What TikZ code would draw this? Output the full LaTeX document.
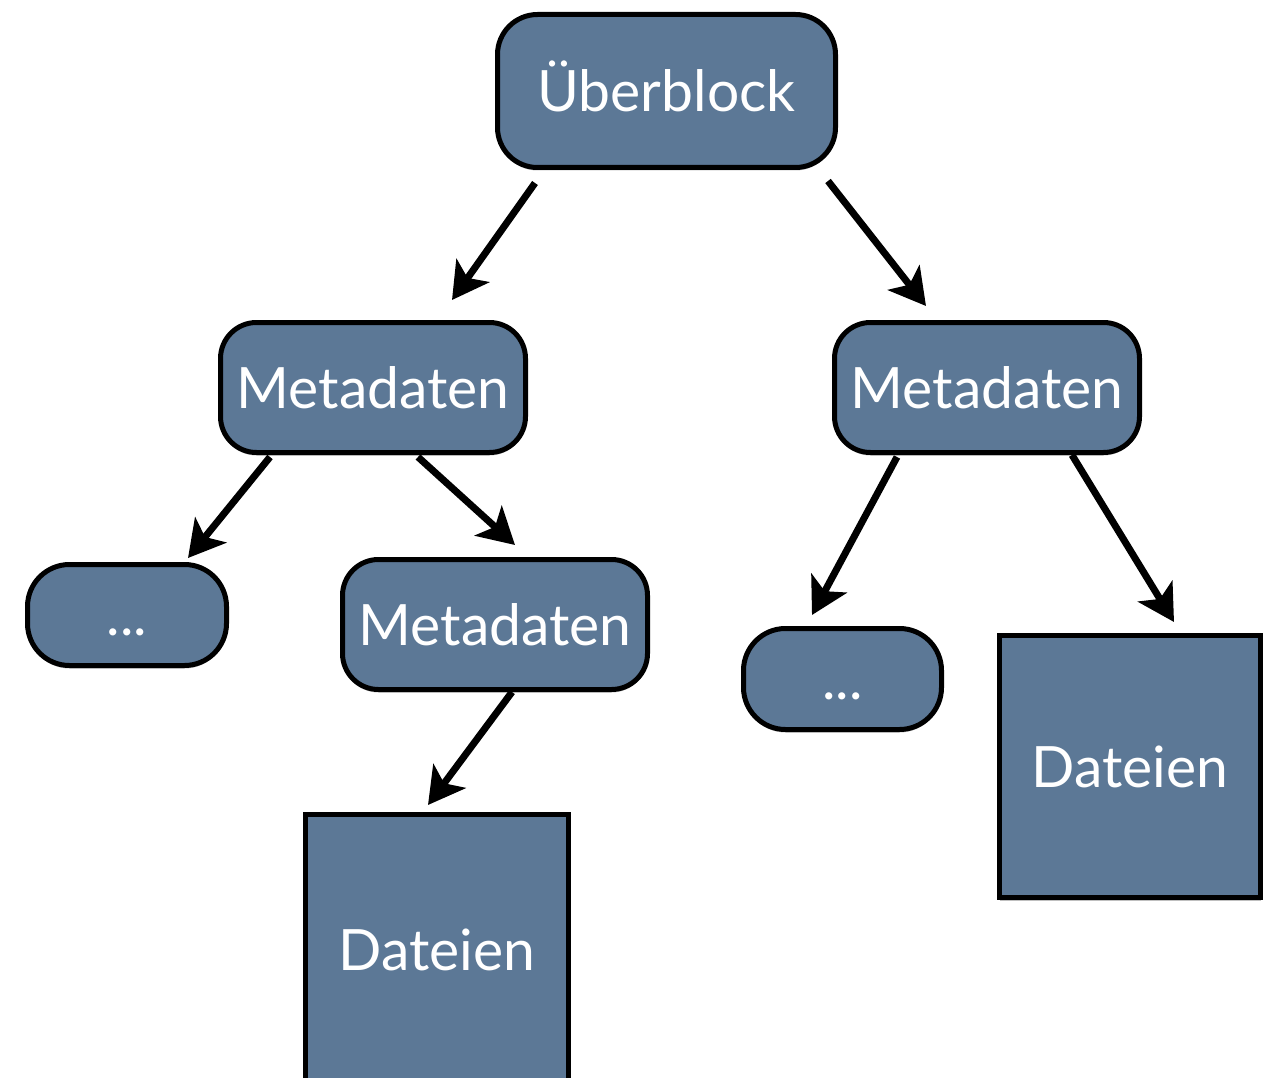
\documentclass[tikz,border=0pt]{standalone}
\usepackage{fontspec}
\setmainfont{Lato}
\usetikzlibrary{arrows.meta,calc,shadows}
\definecolor{boxblue}{RGB}{92,120,150}
\tikzset{
  box/.style={draw=black, line width=5pt, fill=boxblue, text=white, inner sep=0pt,
    font=\fontsize{57}{60}\selectfont, text height=41pt, text depth=0pt,
    drop shadow={shadow xshift=0pt, shadow yshift=-3pt, opacity=0.25, fill=black}},
  rbox/.style={box, rounded corners=#1},
  arr/.style={line width=7pt, -{Stealth[length=36pt, width=40pt, inset=9pt]}},
}
\begin{document}
\begin{tikzpicture}[x=1pt,y=-1pt]
\clip (0,0) rectangle (1264,1078);
\fill[white] (0,0) rectangle (1264,1078);
\node[rbox=40pt, minimum width=338pt, minimum height=153pt] (ub) at (666.5,91) {Überblock};
\node[rbox=36pt, minimum width=305pt, minimum height=130pt] (mL) at (373,387.5) {Metadaten};
\node[rbox=36pt, minimum width=305pt, minimum height=130pt] (mR) at (987,387.5) {Metadaten};
\node[rbox=36pt, minimum width=305pt, minimum height=130pt] (mM) at (495,624.5) {Metadaten};
\node[rbox=42pt, minimum width=199pt, minimum height=101pt] (dL) at (127,615) {...};
\node[rbox=42pt, minimum width=198pt, minimum height=101pt] (dR) at (842.5,679) {...};
\node[box, minimum width=261pt, minimum height=262pt] (fR) at (1130,766.5) {Dateien};
\node[box, minimum width=263pt, minimum height=270pt] (fB) at (437,949.5) {Dateien};
\draw[arr] ($(ub.center)+(-131.5,92)$) -- ($(mL.center)+(79,-87.5)$);
\draw[arr] ($(ub.center)+(161.5,90)$) -- ($(mR.center)+(-61,-81.5)$);
\draw[arr] ($(mL.center)+(-103,69.5)$) -- ($(dL.center)+(61,-57)$);
\draw[arr] ($(mL.center)+(45,69.5)$) -- ($(mM.center)+(20,-79.5)$);
\draw[arr] ($(mR.center)+(-90,69.5)$) -- ($(dR.center)+(-30.5,-64)$);
\draw[arr] ($(mR.center)+(85,67.5)$) -- ($(fR.center)+(44,-144.5)$);
\draw[arr] ($(mM.center)+(17,67.5)$) -- ($(fB.center)+(-9,-144.5)$);
\end{tikzpicture}
\end{document}
